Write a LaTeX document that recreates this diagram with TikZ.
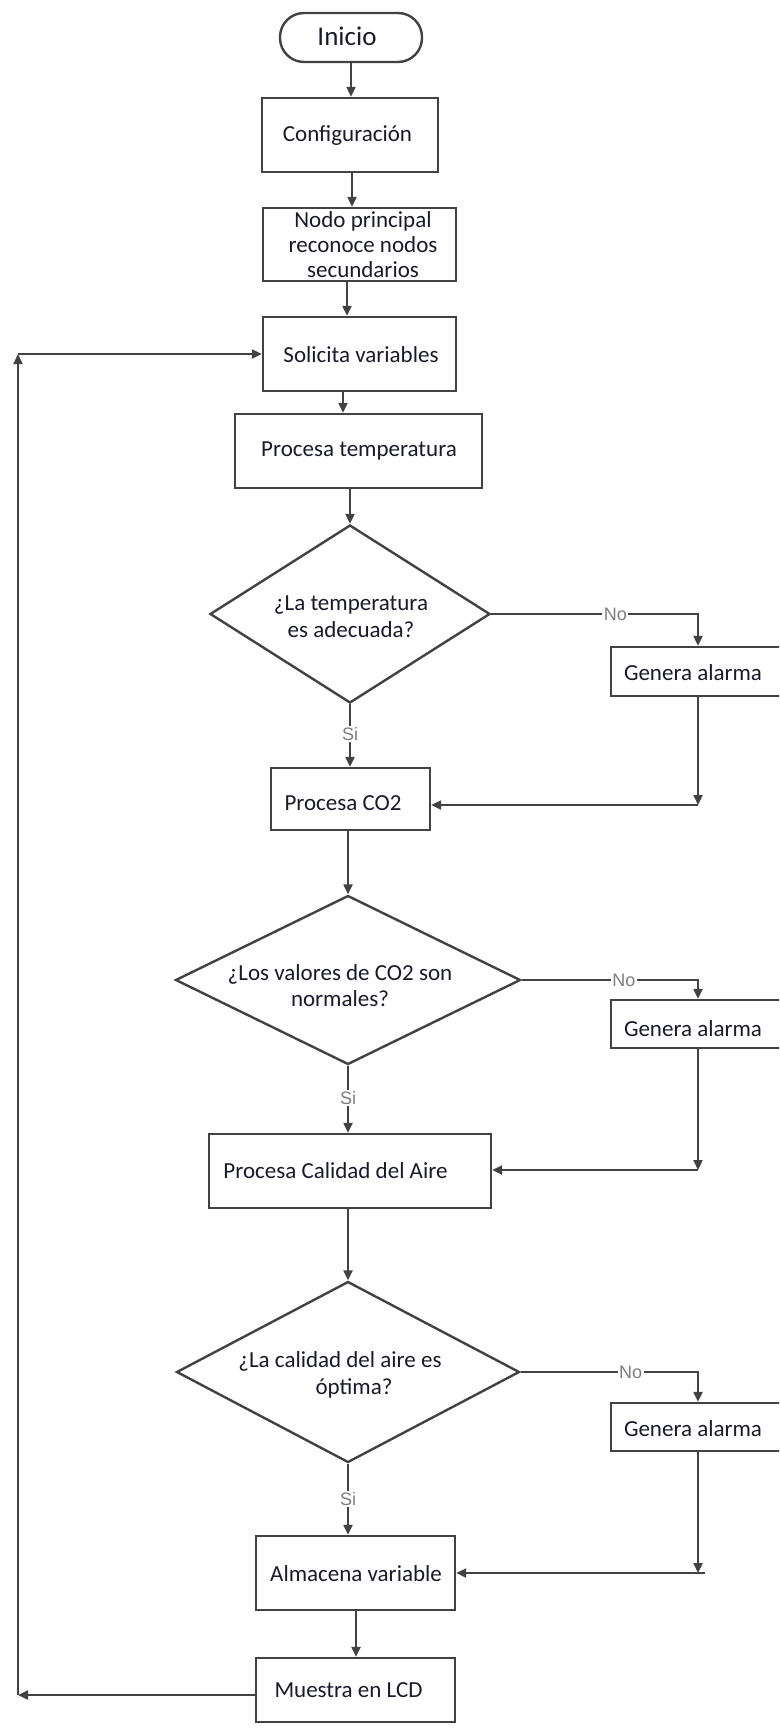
\documentclass[tikz,border=0pt]{standalone}
\usepackage{fontspec}
\setmainfont{Carlito}
\newfontfamily\lblfont{Liberation Sans}
\usetikzlibrary{shapes.geometric,arrows.meta}
\definecolor{lncol}{RGB}{66,66,66}
\definecolor{txcol}{RGB}{26,26,44}
\definecolor{lbcol}{RGB}{125,125,125}
\begin{document}
\begin{tikzpicture}[x=1pt,y=-1pt,
  box/.style={draw=lncol,line width=2.4pt,fill=white,inner sep=0pt,rectangle},
  dec/.style={draw=lncol,line width=2.4pt,fill=white,inner sep=0pt,diamond},
  txt/.style={text=txcol,font=\fontsize{23}{26}\selectfont,align=center,inner sep=0pt},
  lbl/.style={text=lbcol,font=\lblfont\fontsize{18}{20}\selectfont,fill=white,inner sep=1.5pt},
  arr/.style={draw=lncol,line width=2.2pt,-{Triangle[length=10pt,width=9pt]}},
  plain/.style={draw=lncol,line width=2.2pt}]
\useasboundingbox (0,0) rectangle (779,1731);
\fill[white] (0,0) rectangle (779,1731);
\clip (0,0) rectangle (779,1731);

% boxes
\node[box,rounded corners=24pt,minimum width=142pt,minimum height=49pt] (ini) at (351,37.5) {};
\node[box,minimum width=176pt,minimum height=74pt] (conf) at (350,135) {};
\node[box,minimum width=193pt,minimum height=73pt] (nodo) at (359.5,244.5) {};
\node[box,minimum width=193pt,minimum height=74pt] (sol) at (359.5,354) {};
\node[box,minimum width=247pt,minimum height=74pt] (ptemp) at (358.5,451) {};
\node[dec,minimum width=280pt,minimum height=178pt] (d1) at (350,614) {};
\node[box,minimum width=172pt,minimum height=49pt] (ga1) at (697,671.5) {};
\node[box,minimum width=159pt,minimum height=62pt] (pco2) at (350.5,799) {};
\node[dec,minimum width=345pt,minimum height=169pt] (d2) at (348,980) {};
\node[box,minimum width=172pt,minimum height=48pt] (ga2) at (697,1024) {};
\node[box,minimum width=282pt,minimum height=74pt] (pcal) at (350,1171) {};
\node[dec,minimum width=343pt,minimum height=181pt] (d3) at (348,1372) {};
\node[box,minimum width=172pt,minimum height=48pt] (ga3) at (697,1427) {};
\node[box,minimum width=199pt,minimum height=74pt] (alm) at (355.5,1573) {};
\node[box,minimum width=199pt,minimum height=64pt] (lcd) at (355.5,1690) {};

% texts
\node[txt,font=\fontsize{27}{30}\selectfont] (t-ini) at (347,36) {Inicio};
\node[txt] (t-conf) at (347.5,136) {Configuración};
\node[txt,font=\fontsize{23}{25}\selectfont] (t-nodo) at (363,245) {Nodo principal\\reconoce nodos\\secundarios};
\node[txt] (t-sol) at (361,355) {Solicita variables};
\node[txt] (t-ptemp) at (359,451) {Procesa temperatura};
\node[txt,font=\fontsize{23}{27}\selectfont] (t-d1) at (351,617) {¿La temperatura\\es adecuada?};
\node[txt] (t-ga1) at (693,673) {Genera alarma};
\node[txt] (t-pco2) at (343,803) {Procesa CO2};
\node[txt] (t-d2) at (340,986) {¿Los valores de CO2 son\\normales?};
\node[txt] (t-ga2) at (693,1029) {Genera alarma};
\node[txt] (t-pcal) at (335.5,1171) {Procesa Calidad del Aire};
\node[txt] (t-d3a) at (340,1361) {¿La calidad del aire es};
\node[txt] (t-d3b) at (354,1388) {óptima?};
\node[txt] (t-ga3) at (693,1429) {Genera alarma};
\node[txt] (t-alm) at (356,1574) {Almacena variable};
\node[txt] (t-lcd) at (348.5,1690) {Muestra en LCD};

% coordinates
\coordinate (c1) at (698,614);
\coordinate (r1) at (698,805);
\coordinate (c2) at (698,980);
\coordinate (r2) at (698,1170);
\coordinate (c3) at (698,1372);
\coordinate (r3) at (698,1573);
\coordinate (lb) at (18,1695);
\coordinate (lt) at (18,354);

% main spine
\draw[arr] (ini.south) -- (ini.south |- conf.north);
\draw[arr] ([xshift=2pt]conf.south) -- ([xshift=2pt]conf.south |- nodo.north);
\draw[arr] ([xshift=-12.5pt]nodo.south) -- ([xshift=-12.5pt]nodo.south |- sol.north);
\draw[arr] ([xshift=-16.5pt]sol.south) -- ([xshift=-16.5pt]sol.south |- ptemp.north);
\draw[arr] (ptemp.south -| d1.north) -- (d1.north);
\draw[arr] (d1.south) -- node[lbl,pos=0.48]{Si} (d1.south |- pco2.north);
\draw[arr] (pco2.south -| d2.north) -- (d2.north);
\draw[arr] (d2.south) -- node[lbl,pos=0.48]{Si} (d2.south |- pcal.north);
\draw[arr] (pcal.south -| d3.north) -- (d3.north);
\draw[arr] (d3.south) -- node[lbl,pos=0.5]{Si} (d3.south |- alm.north);
\draw[arr] ([xshift=0.5pt]alm.south) -- ([xshift=0.5pt]alm.south |- lcd.north);

% no branches
\draw[arr] (d1.east) -- node[lbl,pos=0.6]{No} (c1) -- (c1 |- ga1.north);
\draw[arr] (c1 |- ga1.south) -- (r1);
\draw[arr] (r1) -- (r1 -| pco2.east);

\draw[arr] (d2.east) -- node[lbl,pos=0.58]{No} (c2) -- (c2 |- ga2.north);
\draw[arr] (c2 |- ga2.south) -- (r2);
\draw[arr] (r2) -- (r2 -| pcal.east);

\draw[arr] (d3.east) -- node[lbl,pos=0.62]{No} (c3) -- (c3 |- ga3.north);
\draw[arr] (c3 |- ga3.south) -- (r3);
\draw[plain] (r3) -- ++(7,0);
\draw[arr] (r3) -- (r3 -| alm.east);

% loop back
\draw[arr] (lb -| lcd.west) -- (lb);
\draw[arr] (lb) -- (lt);
\draw[arr] (lt) -- (lt -| sol.west);
\end{tikzpicture}
\end{document}
